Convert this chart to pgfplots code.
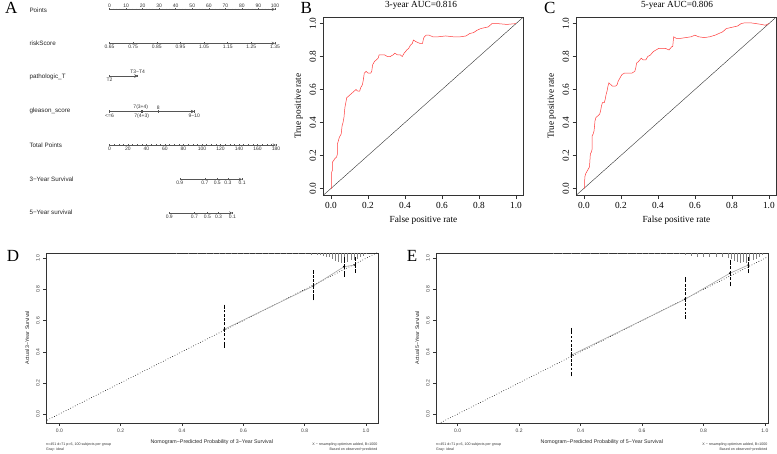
\documentclass[border=0pt]{standalone}
\usepackage{fontspec}
\setmainfont{Liberation Serif}
\newfontfamily\arial{Liberation Sans}
\usepackage{pgfplots}
\pgfplotsset{compat=1.18}
\definecolor{nomogray}{HTML}{555555}
\definecolor{rocred}{HTML}{FF3A3A}
\newcommand{\rocfont}{\fontsize{9.3}{10}\selectfont}
\newcommand{\letterfont}{\fontsize{17}{17}\selectfont}
\newcommand{\nomolab}{\arial\fontsize{6.3}{7}\selectfont\color{black!85}}

\pgfplotsset{
  nomo/.style={scale only axis, height=4pt, ymin=0, ymax=1,
    axis y line=none, axis line style={-, nomogray, line width=0.45pt},
    tick style={nomogray, line width=0.45pt}, tick align=outside,
    major tick length=2.2pt, minor tick length=1.3pt,
    /pgf/number format/assume math mode=true,
    ticklabel style={font=\arial\fontsize{5}{5}\selectfont, text=black!80, inner sep=0.8pt},
    clip=false},
  nomodown/.style={nomo, axis x line=bottom, anchor=south west},
  nomoup/.style={nomo, axis x line=top, anchor=north west},
  roc/.style={scale only axis, width=199.8pt, height=178pt, anchor=south west,
    xmin=-0.04, xmax=1.04, ymin=-0.04, ymax=1.04,
    axis line style={black!80, line width=0.5pt}, tick style={black!80, line width=0.5pt},
    tick pos=left, tick align=outside, major tick length=4pt,
    xtick={0,0.2,0.4,0.6,0.8,1}, xticklabels={0.0,0.2,0.4,0.6,0.8,1.0},
    ytick={0,0.2,0.4,0.6,0.8,1}, yticklabels={0.0,0.2,0.4,0.6,0.8,1.0},
    ticklabel style={font=\rocfont}, yticklabel style={rotate=90, anchor=south},
    label style={font=\rocfont}, xlabel={False positive rate}, ylabel={True positive rate}},
  cal/.style={scale only axis, width=331.7pt, height=170pt, anchor=south west,
    ymin=-0.056, ymax=1.036,
    axis line style={black!80, line width=0.4pt}, tick style={black!80, line width=0.4pt},
    tick pos=left, tick align=outside, major tick length=2.8pt,
    xtick={0,0.2,0.4,0.6,0.8,1}, xticklabels={0.0,0.2,0.4,0.6,0.8,1.0},
    ytick={0,0.2,0.4,0.6,0.8,1}, yticklabels={0.0,0.2,0.4,0.6,0.8,1.0},
    ticklabel style={font=\arial\fontsize{5}{5}\selectfont, text=black!75},
    yticklabel style={rotate=90, anchor=south},
    label style={font=\arial\fontsize{5.3}{6}\selectfont, text=black!85}},
  rug/.style={draw=none, mark=none, forget plot, error bars/.cd, y dir=minus, y explicit,
    error mark=none, error bar style={draw=gray, line width=0.3pt}},
  calbars/.style={only marks, mark=*, mark size=0.7pt, black,
    error bars/.cd, y dir=both, y explicit,
    error bar style={line width=0.8pt, dash pattern=on 2.6pt off 1.6pt},
    error mark options={line width=0.7pt, mark size=2pt, solid}},
}

\begin{document}
\begin{tikzpicture}[x=1pt,y=1pt]
\useasboundingbox (0,0) rectangle (777,-453);

% ---------------- A: nomogram
\node[anchor=base west, font=\letterfont] at (1.5,-13.3) {A};
\node[anchor=west] at (26,-10.3) {\nomolab Points};
\node[anchor=west] at (26,-43.7) {\nomolab riskScore};
\node[anchor=west] at (26,-77.3) {\nomolab pathologic\_T};
\node[anchor=west] at (26,-111) {\nomolab gleason\_score};
\node[anchor=west] at (26,-145) {\nomolab Total Points};
\node[anchor=west] at (26,-179) {\nomolab 3−Year Survival};
\node[anchor=west] at (26,-212.7) {\nomolab 5−Year survival};

\begin{axis}[nomoup, at={(109.5pt,-9.3pt)}, width=165.5pt, xmin=0, xmax=100,
  xtick={0,10,20,30,40,50,60,70,80,90,100}, minor tick num=4]
\end{axis}
\begin{axis}[nomodown, at={(109.5pt,-43.3pt)}, width=165.5pt, xmin=0.65, xmax=1.35,
  xtick={0.65,0.75,0.85,0.95,1.05,1.15,1.25,1.35},
  xticklabels={0.65,0.75,0.85,0.95,1.05,1.15,1.25,1.35}, minor tick num=1]
\end{axis}
\begin{axis}[nomodown, at={(109.5pt,-76pt)}, width=28.1pt, xmin=0, xmax=17,
  xtick={0}, xticklabels={T2}]
\end{axis}
\begin{axis}[nomoup, at={(109.5pt,-76pt)}, width=28.1pt, xmin=0, xmax=17,
  xtick={17}, xticklabels={T3−T4}]
\end{axis}
\begin{axis}[nomodown, at={(109.5pt,-111.5pt)}, width=84.7pt, xmin=0, xmax=51.2,
  xtick={0,19.5,51.2}, xticklabels={<=6,7(4+3),9−10}]
\end{axis}
\begin{axis}[nomoup, at={(109.5pt,-111.5pt)}, width=84.7pt, xmin=0, xmax=51.2,
  xtick={18.9,29.5}, xticklabels={7(3+4),8}]
\end{axis}
\begin{axis}[nomodown, at={(109.5pt,-145pt)}, width=166.5pt, xmin=0, xmax=180,
  xtick={0,20,40,60,80,100,120,140,160,180}, minor tick num=3]
\end{axis}
\begin{axis}[nomodown, at={(179.8pt,-179.3pt)}, width=62.3pt, xmin=76.0, xmax=143.4,
  xtick={76.0,103.2,116.5,128.1,143.4}, xticklabels={0.9,0.7,0.5,0.3,0.1}]
\end{axis}
\begin{axis}[nomodown, at={(169.3pt,-213pt)}, width=63.1pt, xmin=64.6, xmax=132.8,
  xtick={64.6,91.7,105.7,117.8,132.8}, xticklabels={0.9,0.7,0.5,0.3,0.1}]
\end{axis}

% ---------------- B: 3-year ROC
\node[anchor=base west, font=\letterfont] at (297,-13.3) {B};
\node[font=\rocfont] at (421,-5.7) {3-year AUC=0.816};
\begin{axis}[roc, at={(323.6pt,-195pt)}]
\addplot[black!80, line width=0.4pt] coordinates {(-0.04,-0.04) (1.04,1.04)};
\addplot[rocred, line width=0.5pt] coordinates {
(0,0) (0.004,0) (0.004,0.10) (0.008,0.11) (0.008,0.16) (0.015,0.17) (0.02,0.18)
(0.03,0.19) (0.035,0.21) (0.035,0.27) (0.04,0.29) (0.045,0.31) (0.05,0.32)
(0.055,0.33) (0.06,0.38) (0.065,0.40) (0.07,0.43) (0.075,0.49) (0.08,0.52)
(0.085,0.55) (0.095,0.56) (0.105,0.57) (0.115,0.58) (0.125,0.59) (0.135,0.60)
(0.145,0.59) (0.155,0.59) (0.16,0.61) (0.17,0.63) (0.175,0.66) (0.18,0.70)
(0.19,0.71) (0.20,0.70) (0.215,0.70) (0.22,0.71) (0.225,0.75) (0.235,0.77)
(0.245,0.78) (0.255,0.79) (0.26,0.81) (0.275,0.81) (0.29,0.81) (0.305,0.80)
(0.32,0.80) (0.335,0.81) (0.345,0.82) (0.36,0.81) (0.375,0.81) (0.385,0.80)
(0.395,0.82) (0.41,0.84) (0.42,0.85) (0.43,0.87) (0.44,0.88) (0.445,0.90)
(0.46,0.89) (0.48,0.88) (0.495,0.88) (0.50,0.91) (0.505,0.92) (0.515,0.93)
(0.53,0.93) (0.55,0.92) (0.58,0.92) (0.62,0.925) (0.66,0.92) (0.70,0.92)
(0.73,0.925) (0.75,0.94) (0.77,0.945) (0.79,0.96) (0.81,0.97) (0.83,0.975)
(0.85,0.98) (0.87,1.0) (0.90,1.0) (0.95,0.995) (1.0,1.0)};
\end{axis}

% ---------------- C: 5-year ROC
\node[anchor=base west, font=\letterfont] at (540.5,-13.3) {C};
\node[font=\rocfont] at (677,-5.7) {5-year AUC=0.806};
\begin{axis}[roc, at={(576.5pt,-195pt)}]
\addplot[black!80, line width=0.4pt] coordinates {(-0.04,-0.04) (1.04,1.04)};
\addplot[rocred, line width=0.5pt] coordinates {
(0,0) (0.003,0) (0.005,0.07) (0.01,0.09) (0.015,0.10) (0.02,0.11) (0.025,0.12)
(0.03,0.13) (0.032,0.16) (0.035,0.21) (0.04,0.22) (0.045,0.24) (0.045,0.32)
(0.05,0.33) (0.055,0.35) (0.06,0.41) (0.065,0.43) (0.075,0.44) (0.085,0.45)
(0.09,0.47) (0.095,0.50) (0.10,0.52) (0.11,0.52) (0.115,0.54) (0.12,0.57)
(0.125,0.59) (0.13,0.62) (0.135,0.64) (0.145,0.63) (0.155,0.62) (0.17,0.62)
(0.18,0.63) (0.185,0.65) (0.195,0.67) (0.205,0.69) (0.22,0.70) (0.24,0.70)
(0.26,0.70) (0.275,0.71) (0.28,0.73) (0.285,0.76) (0.295,0.77) (0.31,0.79)
(0.32,0.78) (0.335,0.78) (0.345,0.80) (0.36,0.81) (0.375,0.83) (0.39,0.84)
(0.405,0.85) (0.42,0.85) (0.44,0.85) (0.46,0.84) (0.475,0.86) (0.48,0.86)
(0.485,0.92) (0.50,0.91) (0.52,0.91) (0.55,0.915) (0.58,0.92) (0.60,0.93)
(0.62,0.92) (0.65,0.915) (0.68,0.92) (0.71,0.93) (0.73,0.94) (0.75,0.95)
(0.77,0.97) (0.79,0.975) (0.81,0.98) (0.83,0.985) (0.85,1.0) (0.87,1.005)
(0.90,1.005) (0.93,1.0) (0.96,0.995) (0.98,0.99) (1.0,1.0)};
\end{axis}

% ---------------- D: 3-year calibration
\node[anchor=base west, font=\letterfont] at (3.3,-261.7) {D};
\begin{axis}[cal, at={(46pt,-422.7pt)}, xmin=-0.0434, xmax=1.038,
  xlabel={Nomogram−Predicted Probability of 3−Year Survival},
  ylabel={Actual 3−Year Survival}]
\addplot[rug] coordinates {
(0.38,1.036) -= (0,0.006) (0.42,1.036) -= (0,0.006) (0.45,1.036) -= (0,0.006)
(0.48,1.036) -= (0,0.006) (0.50,1.036) -= (0,0.008) (0.52,1.036) -= (0,0.006)
(0.54,1.036) -= (0,0.008) (0.56,1.036) -= (0,0.008) (0.58,1.036) -= (0,0.008)
(0.60,1.036) -= (0,0.008) (0.62,1.036) -= (0,0.008) (0.64,1.036) -= (0,0.008)
(0.66,1.036) -= (0,0.008) (0.68,1.036) -= (0,0.008) (0.70,1.036) -= (0,0.008)
(0.72,1.036) -= (0,0.008) (0.74,1.036) -= (0,0.010) (0.76,1.036) -= (0,0.008)
(0.78,1.036) -= (0,0.010) (0.80,1.036) -= (0,0.010) (0.82,1.036) -= (0,0.012)
(0.84,1.036) -= (0,0.012) (0.85,1.036) -= (0,0.015) (0.86,1.036) -= (0,0.020)
(0.87,1.036) -= (0,0.030) (0.88,1.036) -= (0,0.025) (0.89,1.036) -= (0,0.040)
(0.90,1.036) -= (0,0.055) (0.91,1.036) -= (0,0.060) (0.92,1.036) -= (0,0.065)
(0.93,1.036) -= (0,0.055) (0.94,1.036) -= (0,0.060) (0.95,1.036) -= (0,0.050)
(0.96,1.036) -= (0,0.045) (0.97,1.036) -= (0,0.040) (0.98,1.036) -= (0,0.030)
(0.99,1.036) -= (0,0.020) (1.00,1.036) -= (0,0.010)};
\addplot[black, dotted, line width=0.6pt] coordinates {(-0.1,-0.1) (1.1,1.1)};
\addplot[gray!70, line width=0.6pt] coordinates {(0.538,0.544) (0.828,0.822) (0.928,0.946) (0.964,0.957)};
\addplot[calbars] coordinates {
(0.538,0.544) += (0,0.145) -= (0,0.107)
(0.828,0.822) += (0,0.088) -= (0,0.079)
(0.928,0.946) += (0,0.049) -= (0,0.053)
(0.964,0.957) += (0,0.038) -= (0,0.037)};
\end{axis}
\node[anchor=west, font=\arial\fontsize{3.6}{4}\selectfont, text=black!80, inner sep=0pt] at (46,-444.3) {n=451 d=71 p=6, 100 subjects per group};
\node[anchor=west, font=\arial\fontsize{3.6}{4}\selectfont, text=black!80, inner sep=0pt] at (46,-449.3) {Gray: ideal};
\node[anchor=east, font=\arial\fontsize{3.6}{4}\selectfont, text=black!80, inner sep=0pt] at (377.7,-444.3) {X − resampling optimism added, B=1000};
\node[anchor=east, font=\arial\fontsize{3.6}{4}\selectfont, text=black!80, inner sep=0pt] at (377.7,-449.3) {Based on observed−predicted};

% ---------------- E: 5-year calibration
\node[anchor=base west, font=\letterfont] at (403.3,-261.7) {E};
\begin{axis}[cal, at={(436pt,-422.7pt)}, xmin=-0.0706, xmax=1.009,
  xlabel={Nomogram−Predicted Probability of 5−Year Survival},
  ylabel={Actual 5−Year Survival}]
\addplot[rug] coordinates {
(0.31,1.036) -= (0,0.006) (0.34,1.036) -= (0,0.006) (0.37,1.036) -= (0,0.006)
(0.40,1.036) -= (0,0.006) (0.43,1.036) -= (0,0.006) (0.46,1.036) -= (0,0.008)
(0.49,1.036) -= (0,0.006) (0.52,1.036) -= (0,0.008) (0.55,1.036) -= (0,0.008)
(0.58,1.036) -= (0,0.008) (0.60,1.036) -= (0,0.008) (0.62,1.036) -= (0,0.008)
(0.64,1.036) -= (0,0.008) (0.66,1.036) -= (0,0.010) (0.68,1.036) -= (0,0.008)
(0.70,1.036) -= (0,0.010) (0.72,1.036) -= (0,0.010) (0.74,1.036) -= (0,0.012)
(0.76,1.036) -= (0,0.020) (0.78,1.036) -= (0,0.025) (0.80,1.036) -= (0,0.030)
(0.82,1.036) -= (0,0.025) (0.84,1.036) -= (0,0.030) (0.86,1.036) -= (0,0.030)
(0.88,1.036) -= (0,0.035) (0.89,1.036) -= (0,0.040) (0.90,1.036) -= (0,0.055)
(0.91,1.036) -= (0,0.060) (0.92,1.036) -= (0,0.065) (0.93,1.036) -= (0,0.060)
(0.94,1.036) -= (0,0.065) (0.95,1.036) -= (0,0.055) (0.96,1.036) -= (0,0.050)
(0.97,1.036) -= (0,0.040) (0.98,1.036) -= (0,0.030) (0.99,1.036) -= (0,0.015)};
\addplot[black, dotted, line width=0.6pt] coordinates {(-0.1,-0.1) (1.1,1.1)};
\addplot[gray!70, line width=0.6pt] coordinates {(0.371,0.379) (0.74,0.737) (0.886,0.904) (0.946,0.957)};
\addplot[calbars] coordinates {
(0.371,0.379) += (0,0.161) -= (0,0.124)
(0.740,0.737) += (0,0.130) -= (0,0.112)
(0.886,0.904) += (0,0.074) -= (0,0.071)
(0.946,0.957) += (0,0.038) -= (0,0.039)};
\end{axis}
\node[anchor=west, font=\arial\fontsize{3.6}{4}\selectfont, text=black!80, inner sep=0pt] at (436,-444.3) {n=451 d=71 p=6, 100 subjects per group};
\node[anchor=west, font=\arial\fontsize{3.6}{4}\selectfont, text=black!80, inner sep=0pt] at (436,-449.3) {Gray: ideal};
\node[anchor=east, font=\arial\fontsize{3.6}{4}\selectfont, text=black!80, inner sep=0pt] at (767.7,-444.3) {X − resampling optimism added, B=1000};
\node[anchor=east, font=\arial\fontsize{3.6}{4}\selectfont, text=black!80, inner sep=0pt] at (767.7,-449.3) {Based on observed−predicted};
\end{tikzpicture}
\end{document}
